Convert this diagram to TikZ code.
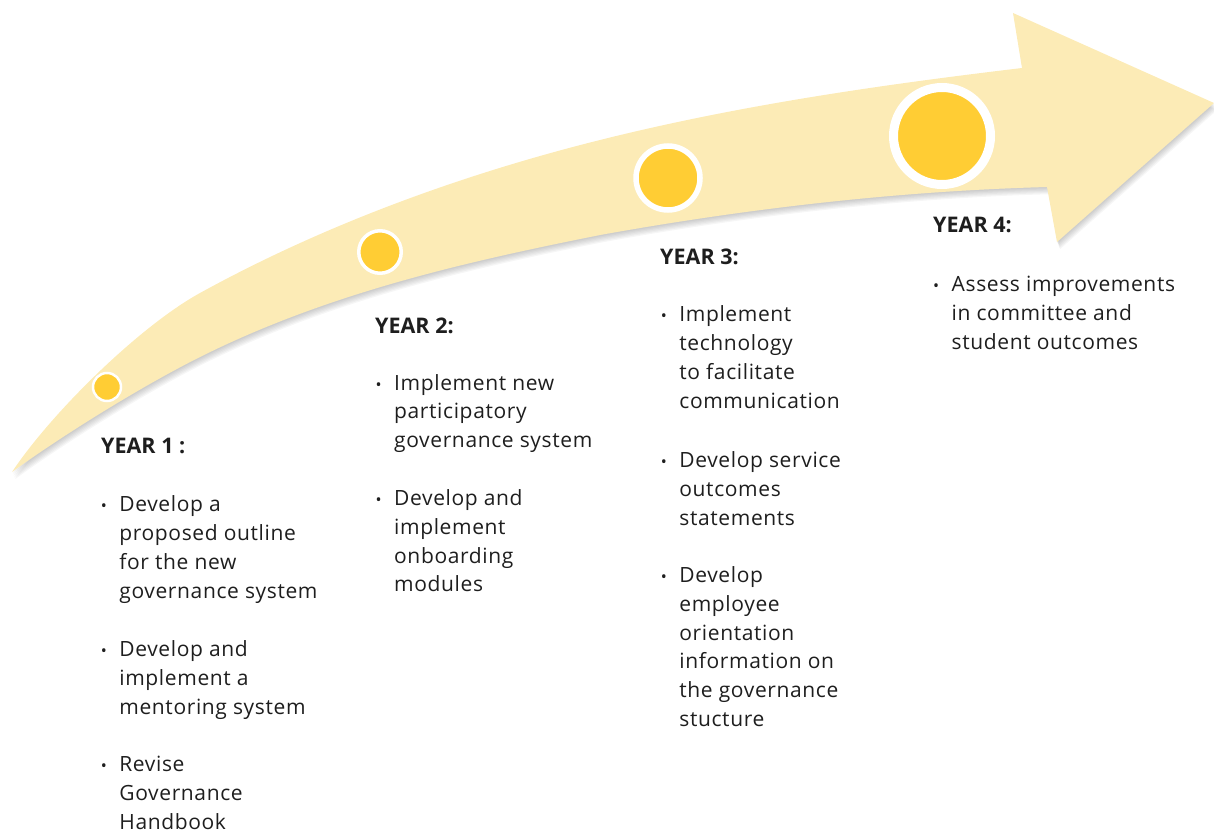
\documentclass[tikz,border=0pt]{standalone}
\usepackage{fontspec}
\setmainfont{Open Sans}
\newfontfamily\bodyfont[LetterSpace=3]{Open Sans}
\definecolor{band}{HTML}{FCEBB6}
\definecolor{dot}{HTML}{FFCD34}
\definecolor{ink}{HTML}{1E1E1E}
\newcommand\bul{\makebox[12pt][c]{\raisebox{0pt}{\fontsize{16}{16}\selectfont •}}\hspace{9.5pt}}
\tikzset{
  yeartitle/.style={anchor=base west, inner sep=0pt, text=ink,
    font=\fontsize{21.5}{25}\selectfont\bfseries},
  item/.style={anchor=base west, inner sep=0pt, text=ink,
    font=\bodyfont\fontsize{21}{28.8}\selectfont},
  milestone/.style={circle, fill=dot, draw=white, inner sep=0pt},
}
\newcommand\arrowshape{%
  (12,472) .. controls (52,412) and (140,326) .. (200,293)
  .. controls (330,221.5) and (470,172.5) .. (600,140)
  .. controls (740,105) and (880,85) .. (1022,68)
  -- (1013,13) -- (1214,103) -- (1057,242) -- (1047,187)
  .. controls (900,191) and (750,208) .. (600,235)
  .. controls (470,261) and (330,292) .. (200,357)
  .. controls (140,387) and (60,437) .. (12,472)
  -- cycle}
\begin{document}
\begin{tikzpicture}[x=1pt,y=-1pt]
\useasboundingbox (0,0) rectangle (1214,829);
% soft shadow
\foreach \d in {1,...,6}{
  \fill[black, opacity=0.035, shift={(0.5*\d,1.2*\d)}] \arrowshape;
}
% arrow band
\fill[band] \arrowshape;
% milestones
\node[milestone, line width=2.5pt, minimum size=28pt] (m1) at (107,387) {};
\node[milestone, line width=3.5pt, minimum size=42.5pt] (m2) at (380,252) {};
\node[milestone, line width=5.5pt, minimum size=64pt] (m3) at (668,178) {};
\node[milestone, line width=9pt, minimum size=97pt] (m4) at (942,136) {};
% Year 1
\node[yeartitle] (y1) at (101,453.3) {YEAR 1 :};
\node[item] (y1a) at (97.7,511.7) {\bul\parbox[t]{260pt}{\raggedright Develop a\\proposed outline\\for the new\\governance system}};
\node[item] (y1b) at (97.7,656.5) {\bul\parbox[t]{260pt}{\raggedright Develop and\\implement a\\mentoring system}};
\node[item] (y1c) at (97.7,771.5) {\bul\parbox[t]{260pt}{\raggedright Revise\\Governance\\Handbook}};
% Year 2
\node[yeartitle] (y2) at (375,333) {YEAR 2:};
\node[item] (y2a) at (372.5,390) {\bul\parbox[t]{260pt}{\raggedright Implement new\\participatory\\governance system}};
\node[item] (y2b) at (372.5,505.5) {\bul\parbox[t]{260pt}{\raggedright Develop and\\implement\\onboarding\\modules}};
% Year 3
\node[yeartitle] (y3) at (660,264) {YEAR 3:};
\node[item] (y3a) at (657.7,321.7) {\bul\parbox[t]{260pt}{\raggedright Implement\\technology\\to facilitate\\communication}};
\node[item] (y3b) at (657.7,467.5) {\bul\parbox[t]{260pt}{\raggedright Develop service\\outcomes\\statements}};
\node[item] (y3c) at (657.7,582.5) {\bul\parbox[t]{260pt}{\raggedright Develop\\employee\\orientation\\information on\\the governance\\stucture}};
% Year 4
\node[yeartitle] (y4) at (933,232.3) {YEAR 4:};
\node[item] (y4a) at (930,291.7) {\bul\parbox[t]{260pt}{\raggedright Assess improvements\\in committee and\\student outcomes}};
\end{tikzpicture}
\end{document}
